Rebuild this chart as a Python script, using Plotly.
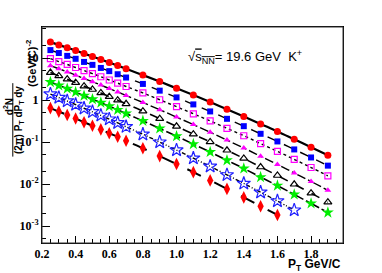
import plotly.graph_objects as go

pt = [0.25, 0.30, 0.35, 0.40, 0.45, 0.50, 0.55, 0.60, 0.65, 0.70, 0.80, 0.90,
      1.00, 1.10, 1.20, 1.30, 1.40, 1.50, 1.60, 1.70, 1.80, 1.90]

s1_circle = [24.0, 20.6, 17.7, 15.1, 12.8, 10.9, 9.26, 7.81, 6.63, 5.56, 3.94, 2.76,
             1.91, 1.32, 0.901, 0.607, 0.409, 0.271, 0.180, 0.117, 0.076, 0.049]
s2_square = [15.5, 13.2, 11.3, 9.62, 8.11, 6.90, 5.83, 4.90, 4.13, 3.45, 2.43, 1.68,
             1.16, 0.791, 0.538, 0.359, 0.240, 0.158, 0.104, 0.0671, 0.0432, 0.0276]
s3_opensq = [9.73, 8.28, 7.06, 5.98, 5.04, 4.27, 3.60, 3.01, 2.54, 2.11, 1.48, 1.02,
             0.697, 0.473, 0.320, 0.213, 0.142, 0.0925, 0.0605, 0.0389, 0.0249, 0.0158]
s4_tri = [6.62, 5.57, 4.70, 3.93, 3.27, 2.74, 2.28, 1.88, 1.57, 1.29, 0.879, 0.592,
          0.394, 0.262, 0.173, 0.112, 0.0726, 0.0462, 0.0295, 0.0185, 0.0116, 0.00716]
s5_opentri = [4.52, 3.77, 3.15, 2.61, 2.15, 1.79, 1.48, 1.21, 1.00, 0.817, 0.547, 0.362,
              0.238, 0.155, 0.101, 0.0641, 0.0409, 0.0256, 0.0161, 0.00995, 0.00611, 0.00372]
s6_star = [2.69, 2.23, 1.87, 1.55, 1.27, 1.05, 0.871, 0.713, 0.587, 0.479, 0.320, 0.211,
           0.138, 0.0899, 0.0582, 0.0370, 0.0236, 0.0147, 0.00923, 0.00568, 0.00348, 0.00211]
s7_openstar = [1.39, 1.15, 0.953, 0.785, 0.641, 0.528, 0.433, 0.352, 0.288, 0.233, 0.154, 0.100,
               0.0647, 0.0415, 0.0265, 0.0166, 0.0104, 0.00643, 0.00397, 0.00241]
s8_diamond = [0.646, 0.533, 0.443, 0.364, 0.298, 0.245, 0.201, 0.163, 0.134, 0.108, 0.0714, 0.0466,
              0.0301, 0.0193, 0.0123, 0.00771, 0.00484, 0.00299, 0.00185]

x_tickvals = [0.2, 0.4, 0.6, 0.8, 1.0, 1.2, 1.4, 1.6, 1.8]
x_ticktext = ["0.2", "0.4", "0.6", "0.8", "1.0", "1.2", "1.4", "1.6", "1.8"]
y_tickvals = [0.001, 0.01, 0.1, 1, 10]
y_ticktext = ["10<sup>-3</sup>", "10<sup>-2</sup>", "10<sup>-1</sup>", "1", "10"]

series = [
    (s1_circle, "circle", "#ff0000", 7, "solid", 2.2),
    (s2_square, "square", "#0000ff", 6, "dash", 1.4),
    (s3_opensq, "square-open", "#ff00ff", 6, "dot", 1.4),
    (s4_tri, "triangle-up", "#ff00ff", 6, "dashdot", 1.4),
    (s5_opentri, "triangle-up-open", "#000000", 7, "dash", 1.6),
    (s6_star, "star", "#00ee00", 9, "dashdot", 1.6),
    (s7_openstar, "star-open", "#2020ff", 10, "4px,2px,1px,2px,1px,2px", 1.4),
    (s8_diamond, "diamond-tall", "#ff0000", 9, "longdash", 2.0),
]

fig = go.Figure()
for vals, sym, col, size, dash, lw in series:
    xs = pt[:len(vals)]
    fig.add_trace(go.Scatter(x=xs, y=vals, mode="lines", line=dict(color="black", width=lw, dash=dash, shape="spline"),
                             showlegend=False, hoverinfo="skip"))
for vals, sym, col, size, dash, lw in series:
    xs = pt[:len(vals)]
    mline = dict(color=col, width=1.2) if "open" in sym else dict(width=0)
    fig.add_trace(go.Scatter(x=xs, y=vals, mode="markers",
                             marker=dict(symbol=sym, color=col, size=size, line=mline),
                             showlegend=False))

tickfont = dict(family="Liberation Serif", size=12, color="black", weight="bold")
fig.update_layout(
    width=382, height=273,
    margin=dict(l=42, r=39, t=27, b=30, autoexpand=False),
    paper_bgcolor="white", plot_bgcolor="white",
    xaxis=dict(range=[0.2, 1.99], showline=True, linecolor="black", linewidth=1, mirror=True,
               automargin=False,
               ticks="inside", ticklen=7, tickcolor="black", tickvals=x_tickvals, ticktext=x_ticktext,
               minor=dict(ticks="inside", ticklen=4, dtick=0.05, tick0=0.2, tickcolor="black", showgrid=False),
               showgrid=False, zeroline=False, tickfont=tickfont),
    yaxis=dict(type="log", range=[-3.40, 1.74], showline=True, linecolor="black", linewidth=1, mirror=True,
               automargin=False,
               ticks="inside", ticklen=8, tickcolor="black", tickvals=y_tickvals, ticktext=y_ticktext,
               minor=dict(ticks="inside", ticklen=4, tickcolor="black", showgrid=False),
               showgrid=False, zeroline=False, tickfont=tickfont, ticklabelstandoff=0),
)
fig.add_shape(type="rect", xref="paper", yref="paper", x0=0, x1=1, y0=0, y1=1,
              line=dict(color="#333333", width=1), layer="above")

fig.add_annotation(xref="paper", yref="paper", x=0.48, y=0.86, xanchor="left", yanchor="middle",
                   text="√<span style='text-decoration:overline'>s<sub>NN</sub></span>= 19.6 GeV  K<sup>+</sup>",
                   showarrow=False, font=dict(family="Liberation Sans", size=13, color="black"))
fig.add_annotation(xref="paper", yref="paper", x=1.0, y=-0.057, xanchor="right", yanchor="top",
                   text="<b>P<sub>T</sub> GeV/C</b>", showarrow=False,
                   font=dict(family="Liberation Sans", size=12, color="black"))
# y-axis title pieces (rotated)
fig.add_annotation(xref="paper", yref="paper", x=-0.112, y=0.63, xanchor="center", yanchor="middle",
                   text="<b>d<sup>2</sup>N</b>", textangle=-90, showarrow=False,
                   font=dict(family="Liberation Sans", size=10, color="black"))
fig.add_annotation(xref="paper", yref="paper", x=-0.076, y=0.57, xanchor="center", yanchor="middle",
                   text="<b>(2π) P<sub>T</sub> dP<sub>T</sub> dy</b>", textangle=-90, showarrow=False,
                   font=dict(family="Liberation Sans", size=10, color="black"))
fig.add_annotation(xref="paper", yref="paper", x=-0.036, y=0.83, xanchor="center", yanchor="middle",
                   text="<b>(GeV/C)<sup>-2</sup></b>", textangle=-90, showarrow=False,
                   font=dict(family="Liberation Sans", size=11, color="black"))
fig.add_shape(type="line", xref="paper", yref="paper", x0=-0.097, x1=-0.097, y0=0.40, y1=0.74,
              line=dict(color="black", width=1))

fig.write_html("out.html", config={"displayModeBar": False},
               post_script="document.body.style.margin='0';document.body.style.padding='0';")
